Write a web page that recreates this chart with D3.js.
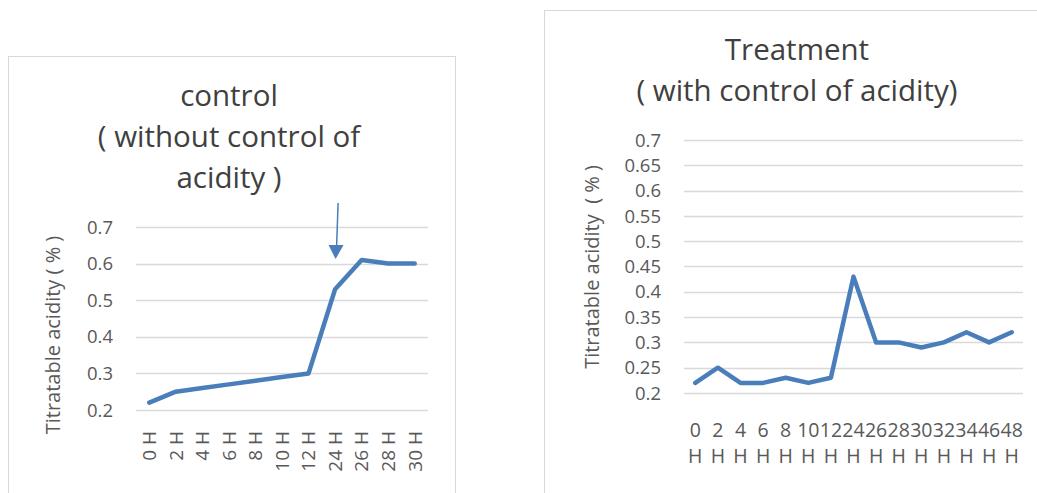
<html>
  <head>
    <title>Titratable acidity</title>
    <script src="https://d3js.org/d3.v7.min.js"></script>
    <style>
      body {
        margin: 0;
        background-color: #fff;
        font-family: "Open Sans", sans-serif;
      }
      svg text {
        fill: #595959;
      }
    </style>
  </head>

  <body>
    <svg width="1037" height="493"></svg>

    <script>
      // control chart data
      var controlHours = ["0 H", "2 H", "4 H", "6 H", "8 H", "10 H", "12 H", "24 H", "26 H", "28 H", "30 H"];
      var controlValues = [0.22, 0.25, 0.26, 0.27, 0.28, 0.29, 0.30, 0.53, 0.61, 0.60, 0.60];
      var controlTicks = [0.2, 0.3, 0.4, 0.5, 0.6, 0.7];

      // treatment chart data
      var treatHours = ["0 H", "2 H", "4 H", "6 H", "8 H", "10 H", "12 H", "24 H", "26 H", "28 H", "30 H", "32 H", "34 H", "46 H", "48 H"];
      var treatValues = [0.22, 0.25, 0.22, 0.22, 0.23, 0.22, 0.23, 0.43, 0.30, 0.30, 0.29, 0.30, 0.32, 0.30, 0.32];
      var treatTicks = [0.2, 0.25, 0.3, 0.35, 0.4, 0.45, 0.5, 0.55, 0.6, 0.65, 0.7];

      var lineColor = "#4a7ebb";
      var gridColor = "#d9d9d9";
      var svg = d3.select("svg");

      // chart frames
      svg.append("rect").attr("x", 8.5).attr("y", 56.5).attr("width", 447).attr("height", 460)
        .attr("fill", "none").attr("stroke", gridColor);
      svg.append("rect").attr("x", 544.5).attr("y", 10.5).attr("width", 520).attr("height", 500)
        .attr("fill", "none").attr("stroke", gridColor);

      var drawChart = function(opt){
        var g = svg.append("g");
        var x = d3.scalePoint().domain(opt.cats).range([opt.left, opt.right]).padding(0.5);
        var y = d3.scaleLinear().domain([0.2, 0.7]).range([opt.bottom, opt.top]);

        // gridlines
        g.selectAll(".grid").data(opt.ticks).enter().append("line")
          .attr("x1", opt.left).attr("x2", opt.right)
          .attr("y1", function(d){ return Math.round(y(d)) + 0.5; })
          .attr("y2", function(d){ return Math.round(y(d)) + 0.5; })
          .attr("stroke", gridColor).attr("stroke-width", 1.5);

        // y tick labels
        g.selectAll(".ytick").data(opt.ticks).enter().append("text")
          .attr("x", opt.left - 23).attr("y", function(d){ return y(d); })
          .attr("dy", "0.36em").attr("text-anchor", "end")
          .style("font-size", "18.5px")
          .text(function(d){ return String(+d.toFixed(2)); });

        // line
        var line = d3.line()
          .x(function(d, i){ return x(opt.cats[i]); })
          .y(function(d){ return y(d); });
        g.append("path").datum(opt.values)
          .attr("d", line).attr("fill", "none")
          .attr("stroke", lineColor).attr("stroke-width", 4.5)
          .attr("stroke-linejoin", "round").attr("stroke-linecap", "round");

        // y axis title
        g.append("text")
          .attr("transform", "translate(" + opt.yLabelX + "," + opt.yLabelY + ") rotate(-90)")
          .attr("text-anchor", "middle").attr("dy", "0.35em")
          .style("font-size", "20px").style("white-space", "pre")
          .text(opt.yLabel);

        // chart title
        var t = g.append("text").attr("text-anchor", "middle")
          .style("font-size", "29.5px").style("fill", "#404040");
        opt.title.forEach(function(s, i){
          t.append("tspan").attr("x", opt.titleX).attr("y", opt.titleY + i * 41)
            .style("white-space", "pre").text(s);
        });

        return {x: x, y: y, g: g};
      };

      // control chart
      var c1 = drawChart({
        cats: controlHours, values: controlValues, ticks: controlTicks,
        left: 136, right: 428, top: 227, bottom: 410,
        yLabel: "Titratable acidity ( % )", yLabelX: 53, yLabelY: 335,
        title: ["control", "( without control of", "acidity )"], titleX: 229, titleY: 106
      });
      c1.g.selectAll(".xtick").data(controlHours).enter().append("text")
        .attr("transform", function(d){ return "translate(" + c1.x(d) + ",431) rotate(-90)"; })
        .attr("text-anchor", "end").attr("dy", "0.36em")
        .style("font-size", "19px")
        .text(function(d){ return d; });

      // arrow pointing at 24 H
      var ax = c1.x("24 H");
      c1.g.append("line").attr("x1", ax + 3).attr("y1", 203).attr("x2", ax + 1.5).attr("y2", 247)
        .attr("stroke", lineColor).attr("stroke-width", 1.5);
      c1.g.append("path")
        .attr("d", "M" + (ax - 6.5) + ",245 L" + (ax + 8.5) + ",245 L" + (ax + 0.5) + ",259 Z")
        .attr("fill", lineColor);

      // treatment chart
      var c2 = drawChart({
        cats: treatHours, values: treatValues, ticks: treatTicks,
        left: 684, right: 1023, top: 140, bottom: 393,
        yLabel: "Titratable acidity  ( % )", yLabelX: 592, yLabelY: 267,
        title: ["Treatment", "( with control of acidity)"], titleX: 797, titleY: 60
      });
      var xl = c2.g.selectAll(".xtick").data(treatHours).enter().append("text")
        .attr("text-anchor", "middle").style("font-size", "19.5px");
      xl.append("tspan").attr("x", function(d){ return c2.x(d); }).attr("y", 437)
        .text(function(d){ return d.split(" ")[0]; });
      xl.append("tspan").attr("x", function(d){ return c2.x(d); }).attr("y", 463)
        .text("H");
    </script>
  </body>
</html>
